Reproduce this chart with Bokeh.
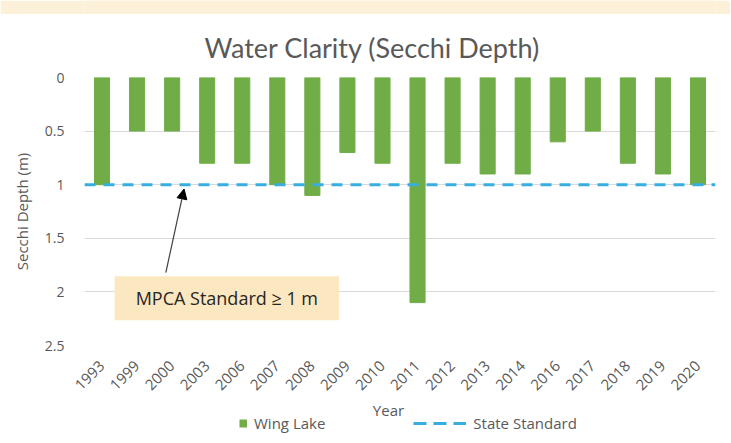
import numpy as np
from bokeh.plotting import figure
from bokeh.layouts import column
from bokeh.models import (Range1d, FactorRange, FixedTicker, Span, Label, Arrow,
                          NormalHead, Legend, LegendItem)
from bokeh.embed import file_html
from bokeh.resources import INLINE

years = ["1993", "1999", "2000", "2003", "2006", "2007", "2008", "2009", "2010",
         "2011", "2012", "2013", "2014", "2016", "2017", "2018", "2019", "2020"]
depth = [1.0, 0.5, 0.5, 0.8, 0.8, 1.0, 1.1, 0.7, 0.8,
         2.1, 0.8, 0.9, 0.9, 0.6, 0.5, 0.8, 0.9, 1.0]
standard = 1.0
y_ticks = [0, 0.5, 1, 1.5, 2, 2.5]
y_tick_labels = ["0", "0.5", "1", "1.5", "2", "2.5"]
series_names = ["Wing Lake", "State Standard"]
title_text = "Water Clarity (Secchi Depth)"
x_label = "Year"
note_text = "MPCA Standard \u2265 1 m"

BAR = "#70ad47"
LINE = "#38aee0"
GRAY = "#595959"
BEIGE = "#fcf1d8"
FONT = "Open Sans"
W = 730

# thin beige strip at the very top
top = figure(width=W, height=14, output_backend="svg", toolbar_location=None,
             min_border_left=0, min_border_right=0, min_border_top=0, min_border_bottom=0,
             outline_line_color=None, background_fill_color=BEIGE, border_fill_color=BEIGE)
top.axis.visible = False
top.grid.visible = False

p = figure(width=W, height=386, output_backend="svg", toolbar_location=None,
           x_range=FactorRange(*years, range_padding=0),
           y_range=Range1d(2.5, 0),
           min_border_left=84, min_border_right=15, min_border_top=61, min_border_bottom=55,
           outline_line_color=None, background_fill_color="white", border_fill_color="white")

p.title.text = title_text
p.title.align = "left"
p.title.offset = 120
p.title.text_font = "Lato"
p.title.text_font_size = "27px"
p.title.text_font_style = "normal"
p.title.text_color = GRAY
p.title.standoff = 28

bars = p.vbar(x=years, top=depth, bottom=0, width=0.43, color=BAR)

p.add_layout(Span(location=standard, dimension="width", line_color=LINE,
                  line_width=3, line_dash="11 8"))

# axes
p.xgrid.grid_line_color = None
p.ygrid.grid_line_color = "#d9d9d9"
p.ygrid.grid_line_width = 1
p.yaxis.ticker = FixedTicker(ticks=y_ticks)
p.yaxis.major_label_overrides = {t: s for t, s in zip(y_ticks, y_tick_labels)}
for ax in (p.xaxis, p.yaxis):
    ax.axis_line_color = None
    ax.major_tick_line_color = None
    ax.minor_tick_line_color = None
    ax.major_label_text_font = FONT
    ax.major_label_text_font_size = "14px"
    ax.major_label_text_color = GRAY
    ax.axis_label_text_font = FONT
    ax.axis_label_text_font_size = "15px"
    ax.axis_label_text_font_style = "normal"
    ax.axis_label_text_color = GRAY
p.xaxis.major_label_text_font_size = "15px"
p.yaxis.major_label_standoff = 14
p.yaxis.axis_label = "Secchi Depth (m)"
p.yaxis.axis_label_standoff = 10
p.xaxis.major_label_orientation = np.pi / 4
p.xaxis.major_label_standoff = 12

# annotation box and arrow
p.add_layout(Label(x=4.06, y=2.06, text=note_text, text_align="center", text_baseline="middle",
                   text_font=FONT, text_font_size="18px", text_color="#262626",
                   background_fill_color="#fbe7c0", padding=(21, 10)))
p.add_layout(Arrow(x_start=2.32, y_start=1.82, x_end=2.84, y_end=1.04,
                   line_color="#404040", line_width=1.2,
                   end=NormalHead(size=10, fill_color="black", line_color="black")))

# strip below the chart: x-axis title and legend (pixel coordinates)
lf = figure(width=W, height=42, output_backend="svg", toolbar_location=None,
            x_range=Range1d(84, 715), y_range=Range1d(442, 400),
            min_border_left=0, min_border_right=0, min_border_top=0, min_border_bottom=0,
            outline_line_color=None, background_fill_color="white", border_fill_color="white")
lf.axis.visible = False
lf.grid.visible = False
lf.add_layout(Label(x=388, y=409, text=x_label, text_align="center", text_baseline="middle",
                    text_font=FONT, text_font_size="15px", text_color=GRAY))
leg_sq = lf.line(x=[5, 6], y=[5, 5], line_color=BAR, line_width=8,
                 line_cap="butt", line_dash="8 200", line_dash_offset=163)
leg_ln = lf.line(x=[5, 6], y=[5, 5], line_color=LINE, line_width=3, line_dash="13 7")
legend = Legend(items=[LegendItem(label=series_names[0], renderers=[leg_sq]),
                       LegendItem(label=series_names[1], renderers=[leg_ln])],
                orientation="horizontal", location=(110, 9),
                glyph_width=53, glyph_height=16, spacing=88, label_standoff=7,
                label_text_font=FONT, label_text_font_size="15px", label_text_color=GRAY,
                border_line_color=None, background_fill_alpha=0, padding=2, margin=0)
lf.add_layout(legend)

layout = column(top, p, lf, spacing=0)
open("out.html", "w").write(file_html(layout, INLINE))
